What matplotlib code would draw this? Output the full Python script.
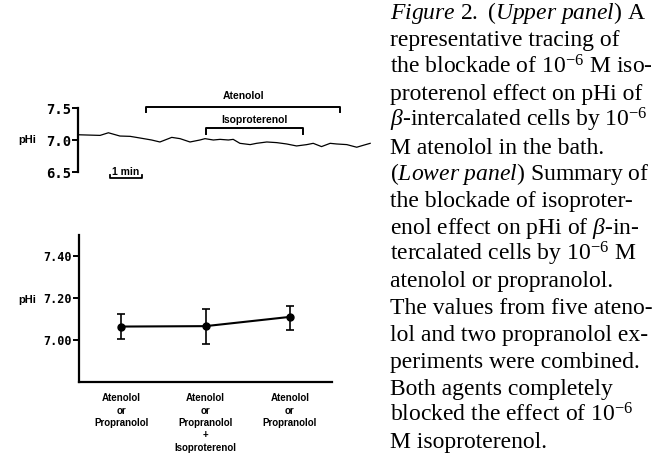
import matplotlib
matplotlib.use('Agg')
from matplotlib import pyplot as plt

# upper panel: representative trace (time in min, pHi)
trace_time = [0.0, 0.69, 0.95, 1.31, 1.63, 1.94, 2.30, 2.56, 2.93, 3.19, 3.50,
              3.81, 3.97, 4.23, 4.44, 4.70, 4.85, 5.06, 5.38, 5.58, 5.90, 6.21,
              6.52, 6.83, 7.15, 7.35, 7.61, 7.88, 8.08, 8.40, 8.71, 8.92, 9.13]
trace_phi = [7.082, 7.072, 7.113, 7.062, 7.057, 7.031, 7.000, 6.969, 7.041, 7.021, 6.969,
             7.000, 7.021, 7.000, 7.010, 7.000, 7.010, 6.948, 6.928, 6.948, 6.969, 6.959,
             6.938, 6.907, 6.928, 6.948, 6.897, 6.948, 6.938, 6.928, 6.887, 6.918, 6.948]
atenolol_period = [2.13, 8.19]
isoproterenol_period = [3.99, 7.02]
upper_ticks = [6.5, 7.0, 7.5]
upper_tick_labels = ['6.5', '7.0', '7.5']

# lower panel: summary
conditions = ['Atenolol\nor\nPropranolol',
              'Atenolol\nor\nPropranolol\n+\nIsoproterenol',
              'Atenolol\nor\nPropranolol']
mean_phi = [7.064, 7.066, 7.110]
err_low = [0.061, 0.083, 0.064]
err_high = [0.058, 0.080, 0.054]
lower_ticks = [7.00, 7.20, 7.40]
lower_tick_labels = ['7.00', '7.20', '7.40']

caption_lines = [
    r'$\mathit{Figure\ 2.}$ ($\mathit{Upper\ panel}$) A',
    'representative tracing of',
    r'the blockade of 10$^{-6}$ M iso-',
    'proterenol effect on pHi of',
    r'$\beta$-intercalated cells by 10$^{-6}$',
    'M atenolol in the bath.',
    r'($\mathit{Lower\ panel}$) Summary of',
    'the blockade of isoproter-',
    r'enol effect on pHi of $\beta$-in-',
    r'tercalated cells by 10$^{-6}$ M',
    'atenolol or propranolol.',
    'The values from five ateno-',
    'lol and two propranolol ex-',
    'periments were combined.',
    'Both agents completely',
    r'blocked the effect of 10$^{-6}$',
    'M isoproterenol.',
]

W, H = 669, 453
plt.rcParams['mathtext.fontset'] = 'custom'
plt.rcParams['mathtext.rm'] = 'Liberation Serif'
plt.rcParams['mathtext.it'] = 'Liberation Serif:italic'
plt.rcParams['mathtext.bf'] = 'Liberation Serif:bold'


def px_axes(fig, x0, y0, x1, y1):
    # axes from pixel box (top-left origin)
    return fig.add_axes([x0 / W, 1 - y1 / H, (x1 - x0) / W, (y1 - y0) / H])


fig = plt.figure(figsize=(6.69, 4.53), dpi=100)

# ---- upper panel
ax = px_axes(fig, 78, 85, 380, 185)
ax.plot(trace_time, trace_phi, color='black', linewidth=0.9)
ax.set_xlim(0, 302 / 32)
ax.set_ylim(7.0 - 45 / 64, 7.0 + 55 / 64)
for side in ['top', 'right', 'bottom']:
    ax.spines[side].set_visible(False)
ax.spines['left'].set_bounds(6.5, 7.5)
ax.spines['left'].set_linewidth(1.6)
ax.set_xticks([])
ax.set_yticks(upper_ticks)
ax.set_yticklabels(upper_tick_labels, family='DejaVu Sans Mono', fontweight='bold', fontsize=10)
ax.tick_params(axis='y', direction='out', length=4, width=1.4, pad=1)
ax.patch.set_alpha(0)

# brackets
def bracket(period, y, drop, label, label_y):
    ax.plot([period[0], period[0], period[1], period[1]], [y - drop, y, y, y - drop],
            color='black', linewidth=1.4)
    ax.text(sum(period) / 2, label_y, label, ha='center', va='center',
            family='Liberation Sans', fontweight='bold', fontsize=7.5)

bracket(atenolol_period, 7.52, 0.08, 'Atenolol', 7.69)
bracket(isoproterenol_period, 7.18, 0.08, 'Isoproterenol', 7.31)
# 1 min scale bar
ax.plot([1.0, 1.0, 2.0, 2.0], [6.45, 6.41, 6.41, 6.45], color='black', linewidth=1.3)
ax.text(1.5, 6.50, '1 min', ha='center', va='center',
        family='Liberation Sans', fontweight='bold', fontsize=7.5)
fig.text(18 / W, 1 - 140 / H, 'pHi', ha='left', va='center',
         family='Liberation Sans', fontweight='bold', fontsize=8)

# ---- lower panel
ax2 = px_axes(fig, 79, 235, 332, 382)
x = [1, 2, 3]
ax2.errorbar(x, mean_phi, yerr=[err_low, err_high], color='black', linewidth=1.5,
             elinewidth=1.2, capsize=3, capthick=1.2, marker='o', markersize=5)
ax2.set_xlim(0.5, 3.5)
ax2.set_ylim(6.80, 7.50)
ax2.spines['top'].set_visible(False)
ax2.spines['right'].set_visible(False)
ax2.spines['left'].set_linewidth(1.6)
ax2.spines['bottom'].set_linewidth(1.6)
ax2.set_yticks(lower_ticks)
ax2.set_yticklabels(lower_tick_labels, family='DejaVu Sans Mono', fontweight='bold', fontsize=8.5)
ax2.tick_params(axis='y', direction='out', length=4, width=1.4, pad=1)
ax2.set_xticks(x)
ax2.set_xticklabels(conditions, family='Liberation Sans', fontweight='bold', fontsize=7,
                    linespacing=1.3, va='top')
ax2.tick_params(axis='x', length=0, pad=8)
fig.text(18 / W, 1 - 300 / H, 'pHi', ha='left', va='center',
         family='Liberation Sans', fontweight='bold', fontsize=8)

# ---- caption
for i, line in enumerate(caption_lines):
    fig.text(390 / W, 1 - (19.5 + i * 26.8) / H, line, ha='left', va='baseline',
             family='Liberation Serif', fontsize=17)

fig.savefig('out.png', dpi=100)
